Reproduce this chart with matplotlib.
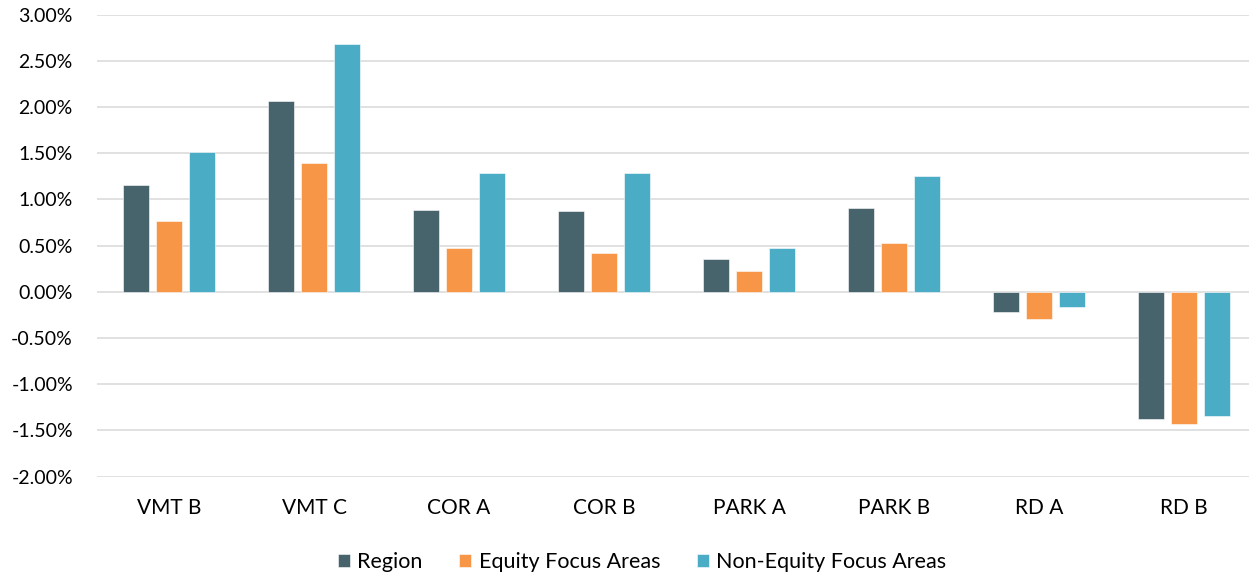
import numpy as np
import matplotlib
matplotlib.use("Agg")
import matplotlib.pyplot as plt
from matplotlib.ticker import FuncFormatter, MultipleLocator

# percent change by scenario
scenarios = ["VMT B", "VMT C", "COR A", "COR B", "PARK A", "PARK B", "RD A", "RD B"]
region = [1.16, 2.06, 0.89, 0.87, 0.35, 0.91, -0.22, -1.38]
equity = [0.77, 1.39, 0.47, 0.42, 0.22, 0.53, -0.29, -1.43]
non_equity = [1.51, 2.68, 1.28, 1.28, 0.47, 1.25, -0.16, -1.34]

series = [
    ("Region", region, "#47636b"),
    ("Equity Focus Areas", equity, "#f79646"),
    ("Non-Equity Focus Areas", non_equity, "#4bacc6"),
]

plt.rcParams['font.family'] = ['Lato', 'DejaVu Sans']

fig = plt.figure(figsize=(12.49, 5.77), dpi=100)
W, H = 1249, 577
left, right, top, bottom = 96.5, 1256.5, 14.5, 476.7
ax = fig.add_axes([left / W, 1 - bottom / H, (right - left) / W, (bottom - top) / H])

x = np.arange(len(scenarios))
width = 0.18
offset = 0.225
for i, (name, vals, color) in enumerate(series):
    ax.bar(x + (i - 1) * offset, vals, width, color=color, label=name,
           edgecolor="white", linewidth=0.4, zorder=3)

ax.set_xlim(-0.5, len(scenarios) - 0.5)
ax.set_ylim(-2.0, 3.0)
ax.yaxis.set_major_locator(MultipleLocator(0.5))
ax.yaxis.set_major_formatter(FuncFormatter(lambda v, p: f"{v:.2f}%"))
ax.grid(axis="y", color="#d9d9d9", linewidth=1.1, zorder=0)
ax.set_xticks(x)
ax.set_xticklabels(scenarios)
for s in ax.spines.values():
    s.set_visible(False)
ax.tick_params(axis="both", length=0, colors="#000000")
ax.tick_params(axis="y", pad=17, labelsize=14)
ax.tick_params(axis="x", pad=15, labelsize=15)

fig.legend(loc="center", bbox_to_anchor=(642 / W, 1 - 562 / H), ncol=3,
           frameon=False, fontsize=15.5, handlelength=0.55, handleheight=0.55,
           handletextpad=0.35, columnspacing=1.7)

fig.savefig("out.png", dpi=100)
